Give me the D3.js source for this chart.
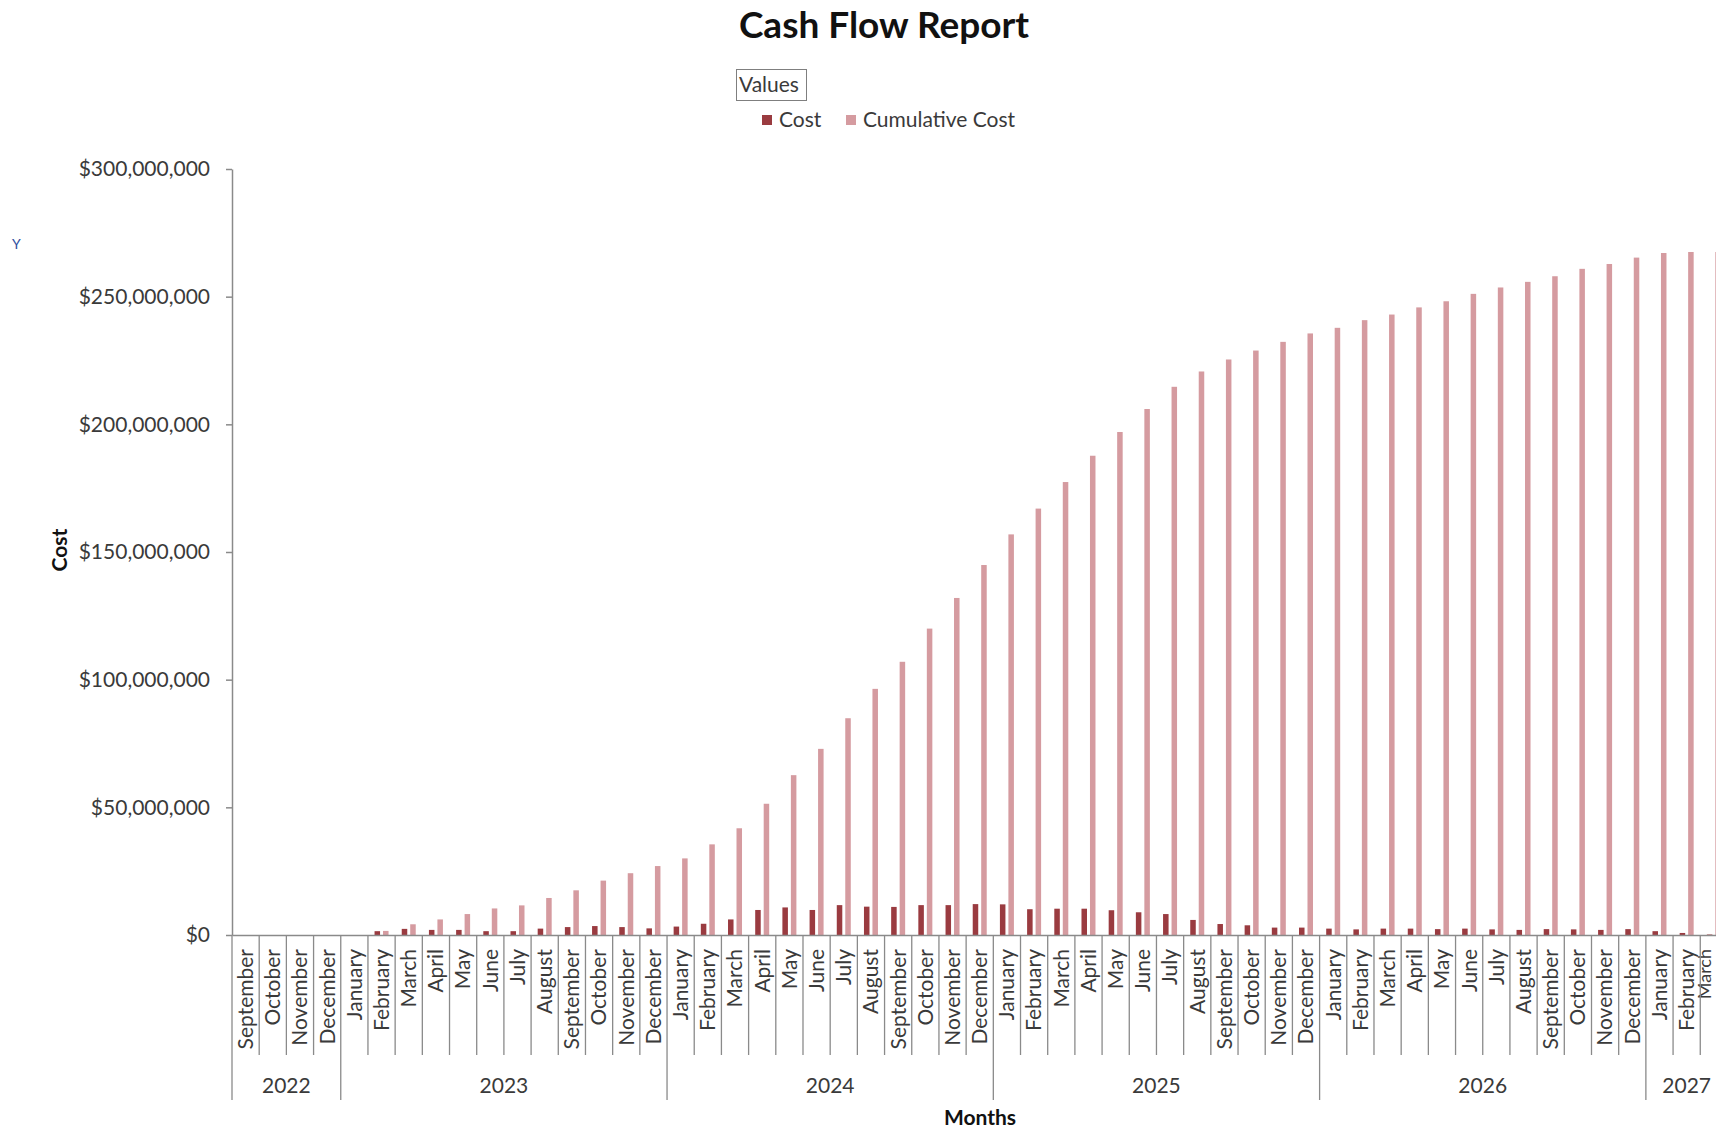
<!DOCTYPE html>
<html>
<head>
<meta charset="utf-8">
<script src="https://cdn.jsdelivr.net/npm/d3@7"></script>
<style>
  html, body { margin: 0; padding: 0; background: #ffffff; overflow: hidden; }
  svg { display: block; }
  text { font-family: Lato, "Open Sans", sans-serif; }
</style>
</head>
<body>
<svg id="chart" width="1716" height="1130"></svg>
<script>
// ---------------- DATA ----------------
const yearLabels = ["2022", "2023", "2024", "2025", "2026", "2027"];
const yearMonthLabels = [
  ["September", "October", "November", "December"],
  ["January", "February", "March", "April", "May", "June", "July", "August", "September", "October", "November", "December"],
  ["January", "February", "March", "April", "May", "June", "July", "August", "September", "October", "November", "December"],
  ["January", "February", "March", "April", "May", "June", "July", "August", "September", "October", "November", "December"],
  ["January", "February", "March", "April", "May", "June", "July", "August", "September", "October", "November", "December"],
  ["January", "February", "March"]
];
const seriesNames = ["Cost", "Cumulative Cost"];

// Monthly cost (USD), one per month from September 2022 to March 2027
const cost = [
  0, 0, 0, 0,
  0, 1500000, 2400000, 2000000, 2000000, 1500000, 1500000, 2500000, 3100000, 3500000, 3100000, 2600000,
  3300000, 4400000, 6100000, 9800000, 10800000, 9800000, 11700000, 11100000, 11000000, 11700000, 11700000, 12100000,
  12000000, 10100000, 10300000, 10300000, 9700000, 8900000, 8200000, 5900000, 4300000, 3800000, 2900000, 2900000,
  2500000, 2200000, 2500000, 2500000, 2300000, 2500000, 2200000, 2000000, 2300000, 2200000, 2000000, 2300000,
  1500000, 800000, 200000
];
// Cumulative cost (USD)
const cumulativeCost = [
  0, 0, 0, 0,
  0, 1600000, 4200000, 6100000, 8200000, 10400000, 11600000, 14500000, 17500000, 21300000, 24200000, 27000000,
  30000000, 35500000, 41800000, 51400000, 62600000, 72900000, 84900000, 96400000, 107000000, 120000000, 132000000, 144900000,
  156900000, 167000000, 177400000, 187700000, 197000000, 206000000, 214700000, 220700000, 225400000, 228900000, 232300000, 235600000,
  237800000, 240800000, 243000000, 245800000, 248200000, 251100000, 253600000, 255800000, 258000000, 260900000, 262800000, 265300000,
  267100000, 267500000, 267500000
];
const yTickValues = [0, 50000000, 100000000, 150000000, 200000000, 250000000, 300000000];

// ---------------- BUILD ----------------
const categories = [];
const monthOf = {};
yearLabels.forEach((yr, i) => {
  yearMonthLabels[i].forEach(m => {
    const key = yr + "-" + m;
    categories.push(key);
    monthOf[key] = m;
  });
});
const rows = categories.map((c, i) => ({ key: c, "Cost": cost[i], "Cumulative Cost": cumulativeCost[i] }));

const svg = d3.select("#chart");
const W = 1716, H = 1130;
const plotLeft = 232, plotTop = 169, plotBottom = 935;
const catStep = 27.19;
const plotRight = plotLeft + catStep * categories.length;

const colors = { "Cost": "#9a3b40", "Cumulative Cost": "#d59ba0" };
const textColor = "#3a3a3a";
const axisColor = "#8a8a8a";
const fs = 21;

const y = d3.scaleLinear().domain([0, 300000000]).range([plotBottom, plotTop]);
const x = d3.scaleBand().domain(categories).range([plotLeft, plotRight]).padding(0);
const groupW = 14;
const x1 = d3.scaleBand().domain(seriesNames).range([0, groupW]).paddingInner(0.35).paddingOuter(0);
const groupOffset = (x.bandwidth() - groupW) / 2;

// Title
svg.append("text")
  .attr("x", 884).attr("y", 38)
  .attr("text-anchor", "middle")
  .attr("font-size", 37).attr("font-weight", "bold").attr("fill", "#111")
  .text("Cash Flow Report");

// Legend
const lg = svg.append("g");
lg.append("rect").attr("x", 736.5).attr("y", 69.5).attr("width", 70).attr("height", 31)
  .attr("fill", "#fff").attr("stroke", "#7f7f7f").attr("stroke-width", 1);
lg.append("text").attr("x", 739).attr("y", 92).attr("font-size", fs).attr("fill", textColor).text("Values");
const legendItems = [
  { name: "Cost", mx: 762, tx: 779 },
  { name: "Cumulative Cost", mx: 846, tx: 863 }
];
legendItems.forEach(it => {
  lg.append("rect").attr("x", it.mx).attr("y", 115).attr("width", 10).attr("height", 10).attr("fill", colors[it.name]);
  lg.append("text").attr("x", it.tx).attr("y", 127).attr("font-size", fs).attr("fill", textColor).text(it.name);
});

// Small blue artifact text on left
svg.append("text").attr("x", 12).attr("y", 249).attr("font-size", 14).attr("fill", "#2f4fa0").text("Y");

// Bars
const gBars = svg.append("g");
rows.forEach(r => {
  seriesNames.forEach(s => {
    const v = r[s];
    if (v <= 0) return;
    gBars.append("rect")
      .attr("x", x(r.key) + groupOffset + x1(s))
      .attr("y", y(v))
      .attr("width", x1.bandwidth())
      .attr("height", y(0) - y(v))
      .attr("fill", colors[s]);
  });
});

// Y axis
const yAxis = d3.axisLeft(y).tickValues(yTickValues).tickSize(6).tickSizeOuter(0).tickPadding(16)
  .tickFormat(d3.format("$,.0f"));
const gy = svg.append("g").attr("transform", `translate(${plotLeft},0)`).call(yAxis);
gy.select(".domain").attr("stroke", axisColor).attr("stroke-width", 1.5);
gy.selectAll(".tick line").attr("stroke", axisColor).attr("stroke-width", 1.5);
gy.selectAll(".tick text").attr("font-size", fs).attr("fill", textColor).attr("font-family", "Lato, sans-serif");

// X axis (month level)
const xAxis = d3.axisBottom(x).tickSize(0).tickSizeOuter(0).tickFormat(d => monthOf[d]);
const gx = svg.append("g").attr("transform", `translate(0,${plotBottom})`).call(xAxis);
gx.select(".domain").attr("stroke", axisColor).attr("stroke-width", 1.5);
gx.selectAll(".tick text")
  .attr("font-size", fs).attr("fill", textColor).attr("font-family", "Lato, sans-serif")
  .attr("text-anchor", "end")
  .attr("transform", "rotate(-90)")
  .attr("x", -14).attr("y", 0).attr("dy", "0.35em");
// keep the last (partly off-canvas) month label inside the picture
gx.selectAll(".tick").each(function(d) {
  const cx = x(d) + x.bandwidth() / 2;
  const maxCx = W - 11;
  if (cx > maxCx) {
    d3.select(this).attr("transform", `translate(${maxCx},0)`);
    d3.select(this).select("text").attr("font-size", 18);
  }
});

// Separators
const gSep = svg.append("g").attr("stroke", axisColor).attr("stroke-width", 1.3);
const yearStartIdx = [];
let acc = 0;
yearMonthLabels.forEach(ms => { yearStartIdx.push(acc); acc += ms.length; });
categories.forEach((c, i) => {
  const isYearStart = yearStartIdx.includes(i);
  gSep.append("line")
    .attr("x1", x(c)).attr("x2", x(c))
    .attr("y1", plotBottom).attr("y2", isYearStart ? 1100 : 1055);
});
// Year labels
yearLabels.forEach((yr, i) => {
  const first = categories[yearStartIdx[i]];
  const last = categories[yearStartIdx[i] + yearMonthLabels[i].length - 1];
  const cx = (x(first) + x(last) + x.bandwidth()) / 2;
  svg.append("text").attr("x", cx).attr("y", 1093).attr("text-anchor", "middle")
    .attr("font-size", fs).attr("fill", textColor).text(yr);
});

// Axis titles
svg.append("text").attr("x", 980).attr("y", 1125).attr("text-anchor", "middle")
  .attr("font-size", fs).attr("font-weight", "bold").attr("fill", "#111").text("Months");
svg.append("text").attr("transform", "translate(67,550) rotate(-90)").attr("text-anchor", "middle")
  .attr("font-size", fs).attr("font-weight", "bold").attr("fill", "#111").text("Cost");
</script>
</body>
</html>
